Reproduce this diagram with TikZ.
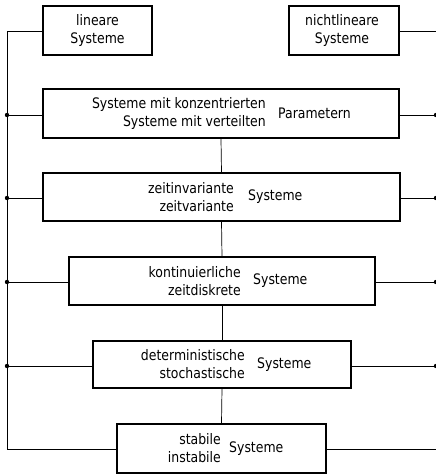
\documentclass[tikz,border=0pt]{standalone}
\usepackage{fontspec}
\setmainfont{DejaVu Sans}[FakeStretch=0.86]
\begin{document}
\begin{tikzpicture}[x=1pt,y=-1pt,
  box/.style={draw,line width=1.1pt,rectangle,inner sep=0pt},
  conn/.style={line width=0.7pt},
  txt/.style={inner sep=0pt,font=\fontsize{14.5}{18}\selectfont},
  dot/.style={circle,fill,inner sep=0pt,minimum size=4.4pt}]
\useasboundingbox (0,0) rectangle (436,475);
% boxes
\node[box,minimum width=109pt,minimum height=49pt] (lin) at (97.5,30.5) {};
\node[box,minimum width=110pt,minimum height=49pt] (nlin) at (344,30.5) {};
\node[box,minimum width=356pt,minimum height=49pt] (b1) at (221,113.5) {};
\node[box,minimum width=357pt,minimum height=48pt] (b2) at (221.5,197) {};
\node[box,minimum width=306pt,minimum height=48pt] (b3) at (222,281) {};
\node[box,minimum width=258pt,minimum height=47pt] (b4) at (222,364.5) {};
\node[box,minimum width=209pt,minimum height=49pt] (b5) at (221.5,448.5) {};
% texts
\node[txt,align=center] (tlin) at (97.5,30.5) {lineare\\Systeme};
\node[txt,align=center] (tnlin) at (342,30.5) {nichtlineare\\Systeme};
\node[txt,align=right,anchor=east] (t1a) at (266,113.5) {Systeme mit konzentrierten\\Systeme mit verteilten};
\node[txt,anchor=west] (t1b) at (278,113.5) {Parametern};
\node[txt,align=right,anchor=east] (t2a) at (234,197) {zeitinvariante\\zeitvariante};
\node[txt,anchor=west] (t2b) at (248,197) {Systeme};
\node[txt,align=right,anchor=east] (t3a) at (241,281) {kontinuierliche\\zeitdiskrete};
\node[txt,anchor=west] (t3b) at (253,281) {Systeme};
\node[txt,align=right,anchor=east] (t4a) at (245,364.5) {deterministische\\stochastische};
\node[txt,anchor=west] (t4b) at (257,364.5) {Systeme};
\node[txt,align=right,anchor=east] (t5a) at (221,448.5) {stabile\\instabile};
\node[txt,anchor=west] (t5b) at (229,448.5) {Systeme};
% bus coordinates
\coordinate (L0) at (7,31);
\coordinate (L1) at (7,115);
\coordinate (L2) at (7,198);
\coordinate (L3) at (7,282);
\coordinate (L4) at (7,366);
\coordinate (L5) at (7,449);
\coordinate (R0) at (436,31);
\coordinate (R1) at (436,115);
\coordinate (R2) at (436,198);
\coordinate (R3) at (436,282);
\coordinate (R4) at (436,366);
\coordinate (R5) at (436,449);
% left bus
\draw[conn] (lin.west |- L0) -- (L0) -- (L5) -- (b5.west |- L5);
\draw[conn] (L1) -- (b1.west |- L1);
\draw[conn] (L2) -- (b2.west |- L2);
\draw[conn] (L3) -- (b3.west |- L3);
\draw[conn] (L4) -- (b4.west |- L4);
% right side
\draw[conn] (nlin.east |- R0) -- (R0);
\draw[conn] (b1.east |- R1) -- (R1);
\draw[conn] (b2.east |- R2) -- (R2);
\draw[conn] (b3.east |- R3) -- (R3);
\draw[conn] (b4.east |- R4) -- (R4);
\draw[conn] (b5.east |- R5) -- (R5);
% vertical chain
\draw[conn] (b1.south) -- (b2.north);
\draw[conn] (b2.south) -- (b3.north);
\draw[conn] (b3.south) -- (b4.north);
\draw[conn] (b4.south) -- (b5.north);
% dots
\foreach \p in {L1,L2,L3,L4,R1,R2,R3,R4} \node[dot] at (\p) {};
\end{tikzpicture}
\end{document}
